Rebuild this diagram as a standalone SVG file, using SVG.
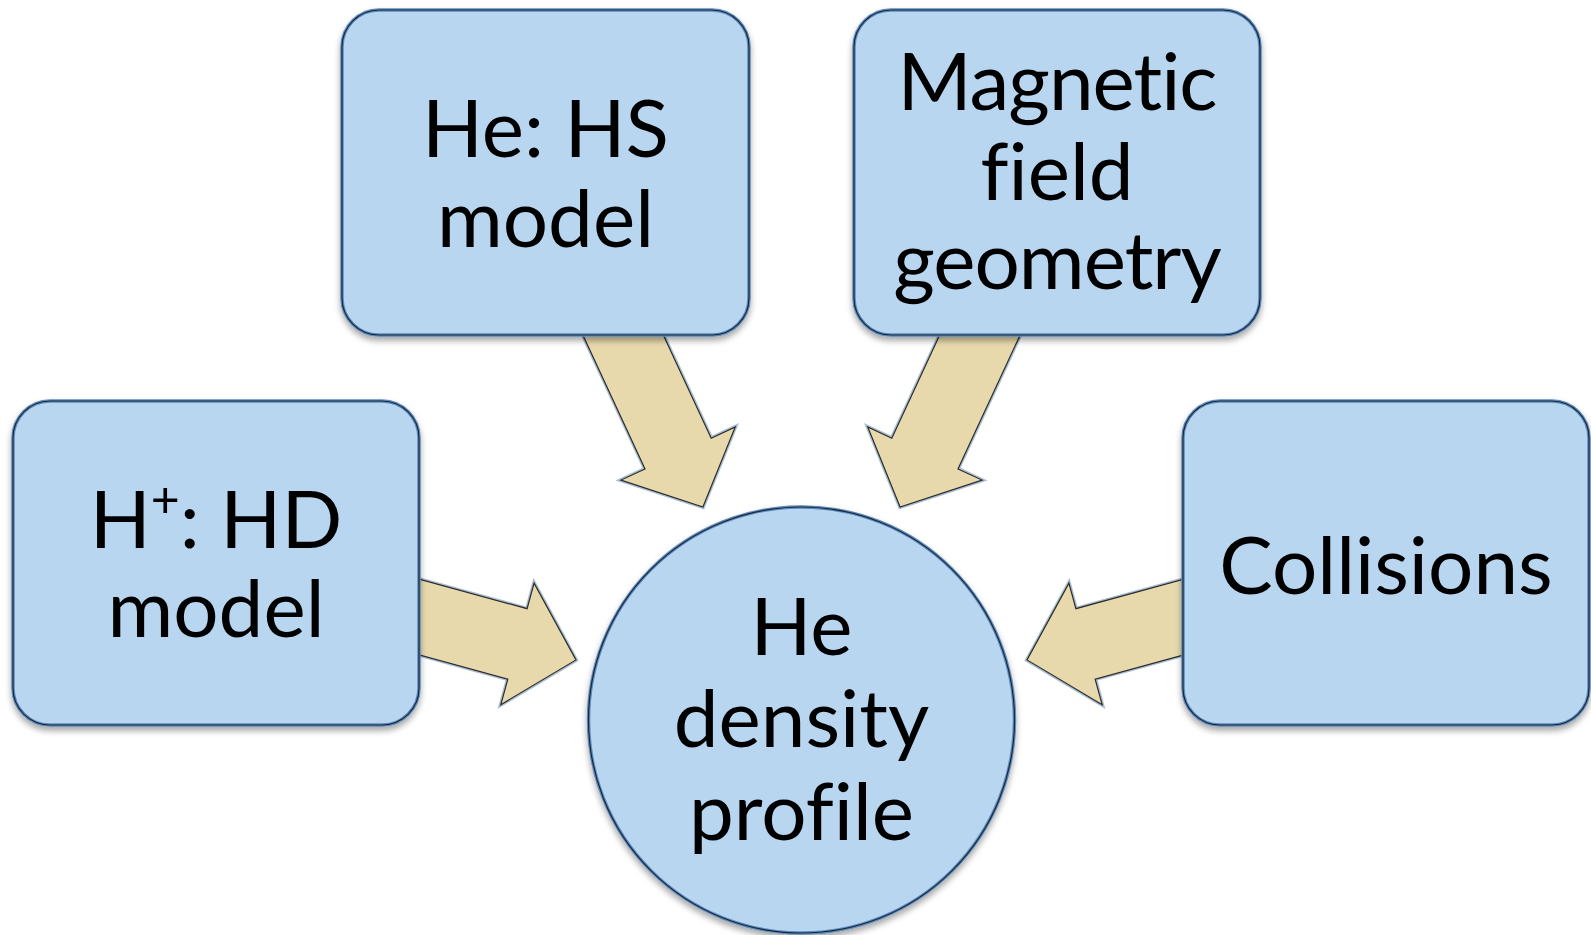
<svg xmlns="http://www.w3.org/2000/svg" width="1591" height="935" viewBox="0 0 1591 935">
<style>
.node-outer{fill:#b8d6f0;stroke:#5b8bc0;stroke-width:3.5}
.node-inner{fill:none;stroke:#1d2833;stroke-width:1.2}
.arrow-outer{fill:#e8d9ad;stroke:#a9bdd2;stroke-width:4;stroke-linejoin:miter}
.arrow-inner{fill:#e8d9ad;stroke:#2b2b2b;stroke-width:1.2;stroke-linejoin:miter}
.lbl{font-family:Lato,"Open Sans","Noto Sans",sans-serif;font-size:80px;fill:#000;text-anchor:middle;font-variant-ligatures:none;font-feature-settings:"liga" 0}
</style>
<defs>
<filter id="sh" x="-10%" y="-10%" width="120%" height="125%">
<feDropShadow dx="0" dy="4" stdDeviation="3" flood-color="#000" flood-opacity="0.35"/>
</filter>
<path id="arrA" d="M -45,-36.5 L 100,-36.5 L 100,-63 L 160.7,0 L 100,63 L 100,36.5 L -45,36.5 Z"/>
<path id="arrB" d="M -45,-36.5 L 128.5,-36.5 L 128.5,-63 L 187.5,0 L 128.5,63 L 128.5,36.5 L -45,36.5 Z"/>
</defs>
<rect width="1591" height="935" fill="#ffffff"/>
<g id="connectors">
<g transform="translate(421,617.5) rotate(15.3)"><use href="#arrA" class="arrow-outer"/><use href="#arrA" class="arrow-inner"/></g>
<g transform="translate(1182,617.5) rotate(164.7)"><use href="#arrA" class="arrow-outer"/><use href="#arrA" class="arrow-inner"/></g>
<g transform="translate(624,337) rotate(65.1)"><use href="#arrB" class="arrow-outer"/><use href="#arrB" class="arrow-inner"/></g>
<g transform="translate(979,337) rotate(114.9)"><use href="#arrB" class="arrow-outer"/><use href="#arrB" class="arrow-inner"/></g>
</g>
<g id="node-hs">
<rect x="342" y="10" width="407" height="325" rx="37" class="node-outer" filter="url(#sh)"/>
<rect x="342" y="10" width="407" height="325" rx="37" class="node-inner"/>
<text class="lbl" x="545.5" y="157">He: HS</text>
<text class="lbl" x="545.5" y="247">model</text>
</g>
<g id="node-mag">
<rect x="854" y="10" width="406" height="325" rx="37" class="node-outer" filter="url(#sh)"/>
<rect x="854" y="10" width="406" height="325" rx="37" class="node-inner"/>
<text class="lbl" x="1057" y="110" letter-spacing="-1">Magnetic</text>
<text class="lbl" x="1057" y="200">field</text>
<text class="lbl" x="1057" y="289" letter-spacing="-1">geometry</text>
</g>
<g id="node-hd">
<rect x="13" y="401" width="406" height="324" rx="37" class="node-outer" filter="url(#sh)"/>
<rect x="13" y="401" width="406" height="324" rx="37" class="node-inner"/>
<text class="lbl" x="216" y="548">H<tspan font-size="50" dy="-31">+</tspan><tspan dy="31">: HD</tspan></text>
<text class="lbl" x="216" y="637">model</text>
</g>
<g id="node-coll">
<rect x="1183" y="401" width="406" height="324" rx="37" class="node-outer" filter="url(#sh)"/>
<rect x="1183" y="401" width="406" height="324" rx="37" class="node-inner"/>
<text class="lbl" x="1386" y="594">Collisions</text>
</g>
<g id="node-he">
<circle cx="801.5" cy="720" r="213" class="node-outer" filter="url(#sh)"/>
<circle cx="801.5" cy="720" r="213" class="node-inner"/>
<text class="lbl" x="801.5" y="655">He</text>
<text class="lbl" x="801.5" y="747">density</text>
<text class="lbl" x="801.5" y="840">profile</text>
</g>
</svg>
